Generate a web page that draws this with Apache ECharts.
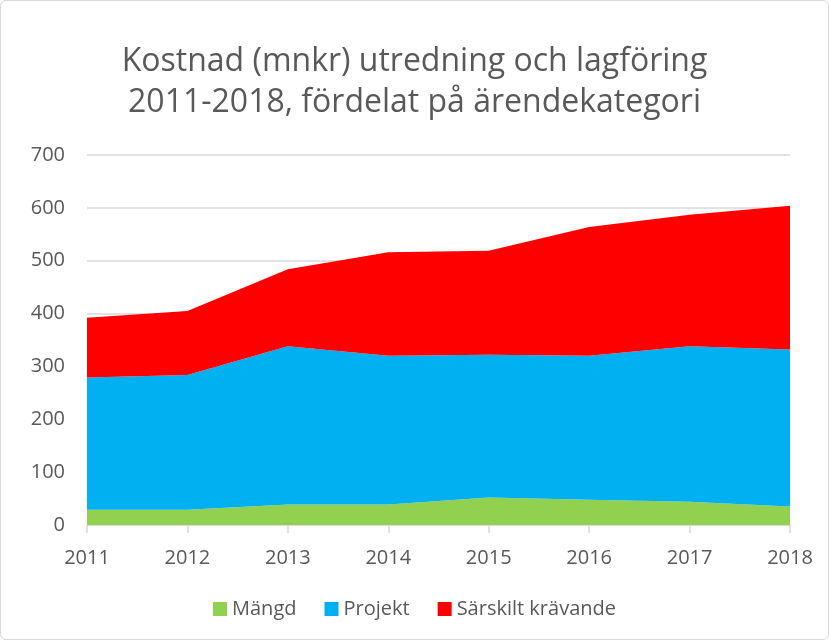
<!DOCTYPE html>
<html>
<head>
<meta charset="utf-8">
<script src="https://cdn.jsdelivr.net/npm/echarts@6/dist/echarts.min.js"></script>
<style>
  html, body { margin: 0; padding: 0; background: #fff; }
  #chart {
    width: 827px;
    height: 638px;
    border: 1px solid #d9d9d9;
    border-radius: 6px;
  }
</style>
</head>
<body>
<div id="chart"></div>
<script type="text/javascript">
// years and stacked cost per category (mnkr)
var years = ['2011', '2012', '2013', '2014', '2015', '2016', '2017', '2018'];
var mangd = [29, 29, 39, 39, 52, 48, 44, 35];
var projekt = [250, 255, 299, 281, 270, 272, 294, 297];
var sarskilt = [113, 121, 146, 196, 197, 244, 249, 272];

var textColor = '#595959';
var myChart = echarts.init(document.getElementById('chart'));

function areaSeries(name, data, color) {
    return {
        name: name,
        type: 'line',
        stack: 'total',
        data: data,
        symbol: 'none',
        lineStyle: { width: 0 },
        areaStyle: { color: color, opacity: 1 },
        itemStyle: { color: color }
    };
}

var option = {
    animation: false,
    textStyle: { fontFamily: 'Open Sans' },
    title: {
        text: 'Kostnad (mnkr) utredning och lagföring\n2011-2018, fördelat på ärendekategori',
        left: 'center',
        top: 35,
        textStyle: {
            fontFamily: 'Open Sans',
            fontSize: 32,
            fontWeight: 'normal',
            color: textColor,
            lineHeight: 41
        }
    },
    legend: {
        bottom: 15,
        left: 'center',
        itemWidth: 14,
        itemHeight: 14,
        itemGap: 28,
        icon: 'rect',
        textStyle: { fontSize: 20, color: textColor, fontFamily: 'Open Sans' },
        data: ['Mängd', 'Projekt', 'Särskilt krävande']
    },
    grid: {
        left: 86,
        right: 38,
        top: 154,
        bottom: 114
    },
    xAxis: {
        type: 'category',
        data: years,
        boundaryGap: false,
        axisLine: { lineStyle: { color: '#d9d9d9', width: 1.5 } },
        axisTick: { show: true, length: 8, lineStyle: { color: '#d9d9d9', width: 1.5 } },
        axisLabel: { fontSize: 20, color: textColor, margin: 23 }
    },
    yAxis: {
        type: 'value',
        min: 0,
        max: 700,
        interval: 100,
        axisLine: { show: false },
        axisTick: { show: false },
        splitLine: { lineStyle: { color: '#d9d9d9', width: 1.5 } },
        axisLabel: { fontSize: 20, color: textColor, margin: 22 }
    },
    series: [
        areaSeries('Mängd', mangd, '#92d050'),
        areaSeries('Projekt', projekt, '#00b0f0'),
        areaSeries('Särskilt krävande', sarskilt, '#ff0000')
    ]
};
myChart.setOption(option, true);
</script>
</body>
</html>
